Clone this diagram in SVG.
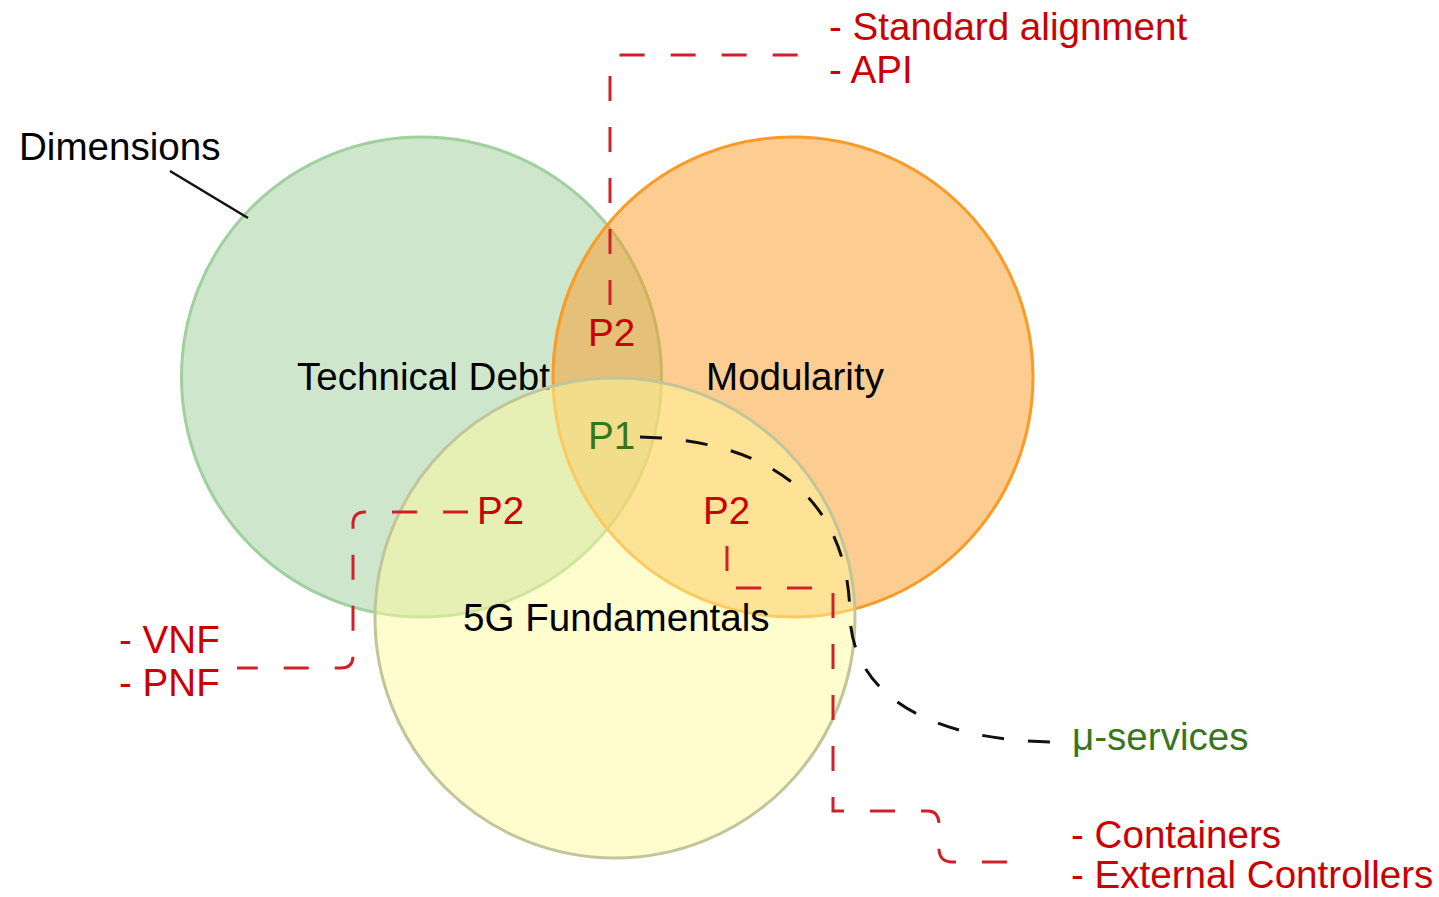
<svg xmlns="http://www.w3.org/2000/svg" width="1439" height="897" viewBox="0 0 1439 897">
  <style>
    text { font-family: "Liberation Sans", Arial, sans-serif; font-size: 38.6px; }
    .blk { fill: #000000; }
    .red { fill: #cc0000; }
    .grn { fill: #38761d; }
    .set { fill-opacity: 0.5; stroke-width: 3; }
    .dash-red { fill: none; stroke: #d0202a; stroke-width: 3; stroke-dasharray: 25 26; }
    .dash-blk { fill: none; stroke: #111111; stroke-width: 3; stroke-dasharray: 22 24; }
  </style>
  <rect width="1439" height="897" fill="#ffffff"/>

  <!-- Venn sets -->
  <g id="technical-debt">
    <circle class="set" cx="421.5" cy="377" r="240" fill="#9dcd99" stroke="#9fd09d"/>
    <text class="blk" x="297" y="390">Technical Debt</text>
  </g>
  <g id="modularity">
    <circle class="set" cx="793" cy="377" r="240" fill="#f99923" stroke="#fb9a24"/>
    <text class="blk" x="706" y="390">Modularity</text>
  </g>
  <g id="fundamentals-5g">
    <circle class="set" cx="615" cy="618" r="240" fill="#fff99b" stroke="#c2c59a"/>
    <text class="blk" x="463" y="631">5G Fundamentals</text>
  </g>

  <!-- Intersection labels -->
  <g id="p2-top"><text class="red" x="588" y="346">P2</text></g>
  <g id="p1-center"><text class="grn" x="588" y="449">P1</text></g>
  <g id="p2-left"><text class="red" x="477" y="524">P2</text></g>
  <g id="p2-right"><text class="red" x="703" y="524">P2</text></g>

  <!-- Callout labels -->
  <g id="dimensions-label"><text class="blk" x="19" y="160">Dimensions</text></g>
  <g id="alignment-label">
    <text class="red" x="829" y="40">- Standard alignment</text>
    <text class="red" x="829" y="83">- API</text>
  </g>
  <g id="vnf-label">
    <text class="red" x="119" y="653">- VNF</text>
    <text class="red" x="119" y="696">- PNF</text>
  </g>
  <g id="services-label"><text class="grn" x="1072" y="750">μ-services</text></g>
  <g id="containers-label">
    <text class="red" x="1071" y="848">- Containers</text>
    <text class="red" x="1071" y="888">- External Controllers</text>
  </g>

  <!-- Connectors -->
  <g id="connectors">
    <line x1="170" y1="171" x2="248" y2="218" stroke="#111111" stroke-width="2.5"/>
    <path class="dash-red" d="M610,305 V67 Q610,55 622,55 H810"/>
    <path class="dash-red" d="M468,512 H365 Q353,512 353,524 V656 Q353,668 341,668 H237"/>
    <path class="dash-red" d="M727,546 V588 H833 V811 H928 Q938,811 939,823 V850 Q940,862 952,862 H1024"/>
    <path class="dash-blk" d="M640,437 C760,440 848,490 850,615 C852,700 940,742 1058,742"/>
  </g>
</svg>
